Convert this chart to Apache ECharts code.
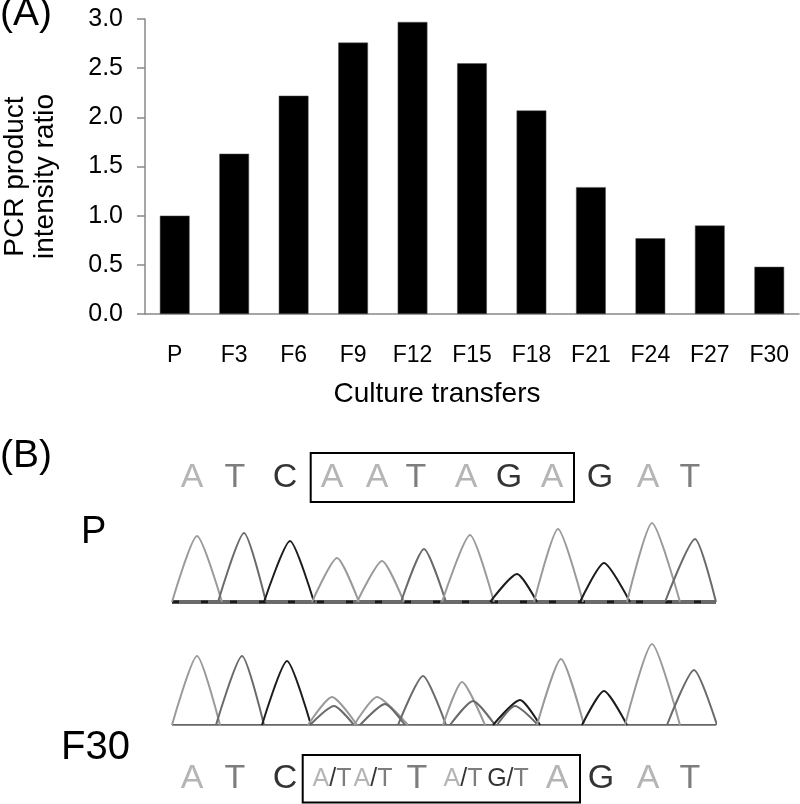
<!DOCTYPE html>
<html>
<head>
<meta charset="utf-8">
<script src="https://cdn.jsdelivr.net/npm/echarts@6/dist/echarts.min.js"></script>
<style>
  html, body { margin: 0; padding: 0; background: #fff; }
  #chart { width: 800px; height: 804px; }
</style>
</head>
<body>
<div id="chart"></div>
<script>
// panel A
const transfers = ['P', 'F3', 'F6', 'F9', 'F12', 'F15', 'F18', 'F21', 'F24', 'F27', 'F30']
const intensityRatio = [1.0, 1.63, 2.22, 2.76, 2.97, 2.55, 2.07, 1.29, 0.77, 0.9, 0.48]

// panel B, chromatograms (scan position / signal)
const pBases = ['A', 'T', 'C', 'A', 'A', 'T', 'A', 'G', 'A', 'G', 'A', 'T']
const pStart = [0, 46, 92, 140, 185, 229, 270, 318, 362, 408, 455, 493]
const pApex = [25, 72, 118, 165, 210, 252, 298, 345, 386, 432, 480, 523]
const pEnd = [50, 94, 142, 187, 232, 274, 322, 365, 411, 458, 508, 544]
const pHeight = [66, 69, 61, 44, 41, 53, 67, 28, 73, 39, 79, 63]

const fBases = ['A', 'T', 'C', 'A', 'T', 'A', 'T', 'T', 'A', 'T', 'G', 'T', 'A', 'G', 'A', 'T']
const fStart = [0, 44, 90, 136, 138, 182, 188, 226, 271, 278, 321, 325, 365, 410, 453, 495]
const fApex = [25, 70, 115, 160, 162, 205, 213, 251, 290, 301, 348, 343, 389, 432, 480, 522]
const fEnd = [48, 92, 139, 185, 182, 236, 233, 274, 313, 323, 368, 366, 412, 455, 508, 545]
const fHeight = [69, 69, 64, 28, 19, 28, 21, 49, 43, 24, 25, 19, 66, 34, 81, 55]

// base calls printed above / below the traces
const pCalls = ['A', 'T', 'C', 'A', 'A', 'T', 'A', 'G', 'A', 'G', 'A', 'T']
const pCallPos = [20, 63, 113, 160, 205, 244, 294, 337, 380, 428, 476, 518]
const pBox = [138.7, 402]
const fCalls = ['A', 'T', 'C', 'A/T', 'A/T', 'T', 'A/T', 'G/T', 'A', 'G', 'A', 'T']
const fCallPos = [20, 63, 113, 160, 201, 245, 291, 336, 385, 429, 476, 518]
const fBox = [130.7, 408]

const scanMax = 544
const font = 'Liberation Sans, Arial, sans-serif'
const baseColor = { A: '#a2a2a2', T: '#5c5c5c', C: '#000', G: '#000' }
const traceColor = { A: '#9a9a9a', T: '#6a6a6a', C: '#1c1c1c', G: '#1c1c1c' }

const chart = echarts.init(document.getElementById('chart'))

function peakSeries(bases, start, apex, end, height, axisIndex) {
  return bases.map((b, i) => ({
    type: 'line',
    xAxisIndex: axisIndex,
    yAxisIndex: axisIndex,
    smooth: 0.22,
    showSymbol: false,
    silent: true,
    clip: false,
    lineStyle: { color: traceColor[b], width: 2 },
    data: [[start[i], 0], [apex[i], height[i]], [end[i], 0]],
  }))
}

function callLabel(call) {
  if (call.indexOf('/') < 0) return `{${call}|${call}}`
  const [a, b] = call.split('/')
  return `{s${a}|${a}}{sk|/}{s${b}|${b}}`
}

const rich = {}
Object.keys(baseColor).forEach(k => {
  rich[k] = { fontSize: 34, color: baseColor[k], fontFamily: font }
  rich['s' + k] = { fontSize: 25, color: baseColor[k], fontFamily: font }
})
rich.sk = { fontSize: 25, color: '#000', fontFamily: font }

function callSeries(calls, pos, box, axisIndex) {
  return {
    type: 'scatter',
    xAxisIndex: axisIndex,
    yAxisIndex: axisIndex,
    symbolSize: 0,
    silent: true,
    clip: false,
    data: calls.map((c, i) => ({ value: [pos[i], 0.5], name: c })),
    label: {
      show: true,
      position: 'inside',
      formatter: p => callLabel(p.name),
      rich: rich,
    },
    markArea: {
      silent: true,
      itemStyle: { color: 'rgba(0,0,0,0)', borderColor: '#000', borderWidth: 2 },
      data: [[{ xAxis: box[0], yAxis: 0 }, { xAxis: box[1], yAxis: 1 }]],
    },
  }
}

function baseline(axisIndex, color, width) {
  return {
    type: 'line',
    xAxisIndex: axisIndex,
    yAxisIndex: axisIndex,
    showSymbol: false,
    silent: true,
    lineStyle: { color: color, width: width },
    data: [[0, 0], [scanMax, 0]],
  }
}

const hiddenX = { type: 'value', min: 0, max: scanMax, show: false }
const traceY = { type: 'value', min: 0, max: 100, show: false }
const letterY = { type: 'value', min: 0, max: 1, show: false }
const traceGrid = { left: 172, right: 84, outerBoundsMode: 'none' }

chart.setOption({
  animation: false,
  textStyle: { fontFamily: font },
  grid: [
    { left: 145, right: 1, top: 19, bottom: 490, outerBoundsMode: 'none' },
    { ...traceGrid, top: 502, bottom: 202 },
    { ...traceGrid, top: 453, bottom: 302 },
    { ...traceGrid, top: 625, bottom: 79 },
    { ...traceGrid, top: 755, bottom: 1.5 },
  ],
  graphic: [
    { type: 'text', left: 0, top: -5, style: { text: '(A)', font: `39px ${font}`, fill: '#000' } },
    { type: 'text', left: 0, top: 437, style: { text: '(B)', font: `39px ${font}`, fill: '#000' } },
    { type: 'text', left: 81, top: 514, style: { text: 'P', font: `38px ${font}`, fill: '#000' } },
    { type: 'text', left: 61, top: 728, style: { text: 'F30', font: `40px ${font}`, fill: '#000' } },
  ],
  xAxis: [
    {
      type: 'category',
      gridIndex: 0,
      data: transfers,
      name: 'Culture transfers',
      nameLocation: 'middle',
      nameGap: 66,
      nameTextStyle: { fontSize: 28, color: '#000', padding: [0, 70, 0, 0] },
      axisLine: { lineStyle: { color: '#888', width: 1.5 } },
      axisTick: { length: 8, lineStyle: { color: '#888', width: 1.5 } },
      axisLabel: { fontSize: 23, color: '#000', margin: 30 },
    },
    { ...hiddenX, gridIndex: 1 },
    { ...hiddenX, gridIndex: 2 },
    { ...hiddenX, gridIndex: 3 },
    { ...hiddenX, gridIndex: 4 },
  ],
  yAxis: [
    {
      type: 'value',
      gridIndex: 0,
      min: 0,
      max: 3,
      interval: 0.5,
      name: 'PCR product\nintensity ratio',
      nameLocation: 'middle',
      nameGap: 85,
      nameTextStyle: { fontSize: 28, color: '#000', lineHeight: 30, padding: [0, 20, 0, 0] },
      splitLine: { show: false },
      axisLine: { show: true, lineStyle: { color: '#888', width: 1.5 } },
      axisTick: { show: true, length: 8, lineStyle: { color: '#888', width: 1.5 } },
      axisLabel: { fontSize: 25, color: '#000', margin: 22, formatter: v => v.toFixed(1) },
    },
    { ...traceY, gridIndex: 1 },
    { ...letterY, gridIndex: 2 },
    { ...traceY, gridIndex: 3 },
    { ...letterY, gridIndex: 4 },
  ],
  series: [
    {
      type: 'bar',
      xAxisIndex: 0,
      yAxisIndex: 0,
      barWidth: '50%',
      itemStyle: { color: '#000', borderColor: '#555', borderWidth: 0.5 },
      data: intensityRatio,
    },
    baseline(1, '#6a6a6a', 4),
    {
      ...baseline(1, '#1a1a1a', 3),
      lineStyle: { color: '#1a1a1a', width: 3, type: [7, 22] },
    },
    ...peakSeries(pBases, pStart, pApex, pEnd, pHeight, 1),
    callSeries(pCalls, pCallPos, pBox, 2),
    baseline(3, '#333', 1.5),
    ...peakSeries(fBases, fStart, fApex, fEnd, fHeight, 3),
    callSeries(fCalls, fCallPos, fBox, 4),
  ],
})
</script>
</body>
</html>
